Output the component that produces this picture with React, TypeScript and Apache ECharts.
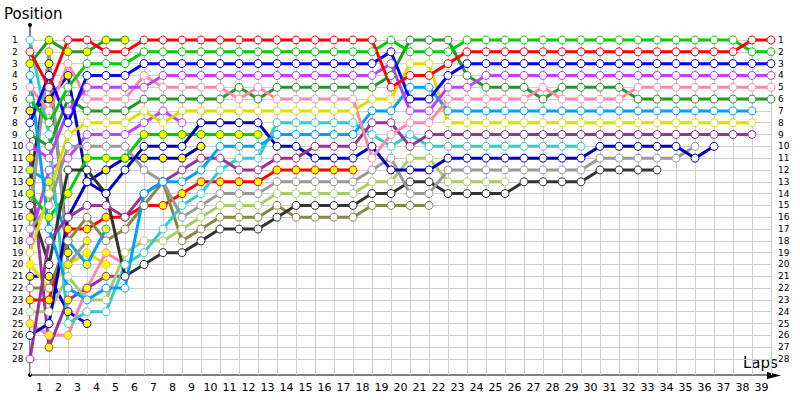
import React, { useEffect, useRef } from "react";
import * as echarts from "echarts";

// positions by lap (index 0 = start), null = not running
const laps = Array.from({ length: 40 }, (_, i) => i);
const lapLabels = ["1","2","3","4","5","6","7","8","9","10","11","12","13","14","15","16","17","18","19","20","21","22","23","24","25","26","27","28","29","30","31","32","33","34","35","36","37","38","39"];
const posLabels = ["1","2","3","4","5","6","7","8","9","10","11","12","13","14","15","16","17","18","19","20","21","22","23","24","25","26","27","28"];

const redO = [2,5,1,1,2,2,1,1,1,1,1,1,1,1,1,1,1,1,1,5,4,4,3,2,2,2,2,2,2,2,2,2,2,2,2,2,2,2,1,1];
const greenO = [6,8,5,3,3,3,2,2,2,2,2,2,2,2,2,2,2,2,2,1,2,2,2,1,1,1,1,1,1,1,1,1,1,1,1,1,1,1,2,2];
const blueO = [8,4,8,4,4,4,3,3,3,3,3,3,3,3,3,3,3,3,3,2,6,6,4,3,3,3,3,3,3,3,3,3,3,3,3,3,3,3,3,3];
const violetO = [10,11,7,5,5,5,5,4,4,4,4,4,4,4,4,4,4,4,4,3,7,7,5,5,4,4,4,4,4,4,4,4,4,4,4,4,4,4,4,4];
const pinkO = [5,7,3,6,6,6,4,5,5,5,5,6,5,6,6,6,6,6,11,9,8,8,6,6,6,6,6,5,6,6,6,6,5,5,5,5,5,5,5,5];
const dkgreenO = [9,10,6,7,7,7,6,6,6,6,6,5,6,5,5,5,5,5,5,4,1,1,1,4,5,5,5,6,5,5,5,5,6,6,6,6,6,6,6,6];
const lblueO = [4,17,22,23,22,22,14,13,13,12,10,10,10,9,9,9,9,9,7,7,5,5,7,7,7,7,7,7,7,7,7,7,7,7,7,7,7,7,7,null];
const yellowO = [19,14,9,8,8,8,7,8,7,7,7,7,7,7,7,7,7,7,6,6,3,3,8,8,8,8,8,8,8,8,8,8,8,8,8,8,8,8,8,null];
const purpleO = [28,18,16,15,15,16,14,13,12,11,11,12,12,11,11,10,10,10,8,8,10,9,9,9,9,9,9,9,9,9,9,9,9,9,9,9,9,9,9,null];
const dblueO = [26,25,16,13,14,12,10,10,10,8,8,8,8,10,10,11,11,11,10,12,12,12,11,11,11,11,11,11,11,11,10,10,10,10,10,11,10,null,null,null];
const grayO = [17,15,10,10,10,10,12,13,16,15,14,14,14,13,13,13,13,13,12,11,14,14,12,12,12,12,12,12,12,12,11,11,11,11,11,10,null,null,null,null];
const blackO = [15,20,12,12,14,21,20,19,19,18,17,17,17,16,15,15,15,15,14,14,13,13,14,14,14,14,13,13,13,13,12,12,12,12,null,null,null,null,null,null];
const cyanO = [1,9,25,24,24,20,19,17,15,14,12,11,11,8,8,8,8,8,9,10,9,10,10,10,10,10,10,10,10,10,null,null,null,null,null,null,null,null,null,null];
const lgreenO = [24,24,21,23,23,19,18,18,17,16,15,15,15,14,14,14,14,14,13,13,11,11,13,13,13,13,null,null,null,null,null,null,null,null,null,null,null,null,null,null];
const oliveO = [22,22,18,16,18,17,15,13,18,17,16,16,16,15,16,16,16,16,15,15,15,15,null,null,null,null,null,null,null,null,null,null,null,null,null,null,null,null,null,null];
const violet2 = [18,12,11,9,9,9,8,7,8,null];
const redY = [23,23,17,17,16,16,15,15,14,13,13,13,13,12,12,12,12,12,null];
const greenY = [14,16,14,11,11,11,9,9,9,9,9,9,9,null];
const dblueY = [7,6,4,13,12,11,11,11,11,10,null];
const dkgreenY = [3,1,2,2,1,1,null];
const grayY = [16,2,20,18,null];
const blackY = [13,3,19,null];
const purpleY = [11,27,23,22,21,21,null];
const pinkY = [25,26,26,22,19,20,null];
const lblueY = [12,13,18,20,17,null];
const yellowY = [20,22,20,19,20,null];
const blueY = [21,21,24,25,null];

type S = { name: string; data: (number | null)[]; color: string; fill: string };
const series: S[] = [
  { name: "blueY", data: blueY, color: "#0000ff", fill: "#ffff00" },
  { name: "yellowY", data: yellowY, color: "#dddd00", fill: "#ffff00" },
  { name: "lblueY", data: lblueY, color: "#00a0ff", fill: "#ffff00" },
  { name: "pinkY", data: pinkY, color: "#ff88aa", fill: "#ffff00" },
  { name: "purpleY", data: purpleY, color: "#993399", fill: "#ffff00" },
  { name: "blackY", data: blackY, color: "#333333", fill: "#ffff00" },
  { name: "grayY", data: grayY, color: "#999999", fill: "#ffff00" },
  { name: "dkgreenY", data: dkgreenY, color: "#229922", fill: "#ffff00" },
  { name: "violet2", data: violet2, color: "#c040ff", fill: "#ffffff" },
  { name: "dblueY", data: dblueY, color: "#0000bb", fill: "#ffff00" },
  { name: "greenY", data: greenY, color: "#00cc00", fill: "#ffff00" },
  { name: "redY", data: redY, color: "#ff0000", fill: "#ffff00" },
  { name: "oliveO", data: oliveO, color: "#888844", fill: "#ffffff" },
  { name: "lgreenO", data: lgreenO, color: "#aacc66", fill: "#ffffff" },
  { name: "cyanO", data: cyanO, color: "#33cccc", fill: "#ffffff" },
  { name: "blackO", data: blackO, color: "#333333", fill: "#ffffff" },
  { name: "grayO", data: grayO, color: "#999999", fill: "#ffffff" },
  { name: "dblueO", data: dblueO, color: "#0000bb", fill: "#ffffff" },
  { name: "purpleO", data: purpleO, color: "#993399", fill: "#ffffff" },
  { name: "yellowO", data: yellowO, color: "#dddd00", fill: "#ffffff" },
  { name: "lblueO", data: lblueO, color: "#00a0ff", fill: "#ffffff" },
  { name: "dkgreenO", data: dkgreenO, color: "#229922", fill: "#ffffff" },
  { name: "pinkO", data: pinkO, color: "#ff88aa", fill: "#ffffff" },
  { name: "violetO", data: violetO, color: "#c040ff", fill: "#ffffff" },
  { name: "blueO", data: blueO, color: "#0000ff", fill: "#ffffff" },
  { name: "greenO", data: greenO, color: "#00cc00", fill: "#ffffff" },
  { name: "redO", data: redO, color: "#ff0000", fill: "#ffffff" },
];

const FONT = "DejaVu Sans";
const GRID = "#d0d0d0";

export default function App() {
  const ref = useRef<HTMLDivElement>(null);
  useEffect(() => {
    const chart = echarts.init(ref.current!, null, { renderer: "svg" });
    const posFormatter = (v: number) => (v >= 1 && v <= 28 ? posLabels[v - 1] : "");
    chart.setOption({
      animation: false,
      backgroundColor: "#ffffff",
      grid: [
        { left: 30, right: 29, top: 40, height: 319, containLabel: false },
        { left: 30, right: 29, top: 359, height: 16, containLabel: false },
      ],
      xAxis: [
        {
          gridIndex: 0, type: "value", min: 0, max: 39, interval: 1,
          axisLine: { show: false }, axisTick: { show: false }, axisLabel: { show: false },
          splitLine: { show: true, lineStyle: { color: GRID, width: 1 } },
        },
        {
          gridIndex: 1, type: "value", min: 0, max: 39, interval: 1,
          axisLine: { show: false }, axisTick: { show: false }, axisLabel: { show: false },
          splitLine: { show: true, lineStyle: { color: GRID, width: 1 } },
        },
        {
          gridIndex: 1, type: "category", data: lapLabels, boundaryGap: true, position: "bottom",
          axisLine: { show: false }, axisTick: { show: false }, splitLine: { show: false },
          axisLabel: { show: true, color: "#000", fontFamily: FONT, fontSize: 11, margin: 7 },
        },
      ],
      yAxis: [
        {
          gridIndex: 0, type: "value", inverse: true, min: 1, max: 28, interval: 1, position: "left",
          axisLine: { show: false }, axisTick: { show: false },
          splitLine: { show: true, lineStyle: { color: GRID, width: 1 } },
          axisLabel: { show: true, color: "#000", fontFamily: FONT, fontSize: 9, align: "left", margin: 18, formatter: posFormatter },
        },
        {
          gridIndex: 0, type: "value", inverse: true, min: 1, max: 28, interval: 1, position: "right",
          axisLine: { show: false }, axisTick: { show: false }, splitLine: { show: false },
          axisLabel: { show: true, color: "#000", fontFamily: FONT, fontSize: 9, align: "left", margin: 7, formatter: posFormatter },
        },
        {
          gridIndex: 1, type: "value", min: 0, max: 1, show: false,
          splitLine: { show: false },
        },
      ],
      graphic: [
        { type: "line", shape: { x1: 30, y1: 25, x2: 30, y2: 375 }, style: { stroke: "#000", lineWidth: 1 } },
        { type: "line", shape: { x1: 30, y1: 375, x2: 776, y2: 375 }, style: { stroke: "#000", lineWidth: 1 } },
        { type: "polygon", shape: { points: [[767, 372], [781, 375.5], [767, 379]] }, style: { fill: "#000" } },
        { type: "circle", shape: { cx: 30, cy: 25, r: 2 }, style: { fill: "#000" } },
        { type: "circle", shape: { cx: 30, cy: 375, r: 2 }, style: { fill: "#000" } },
        { type: "text", x: 4, y: 6, style: { text: "Position", fontFamily: FONT, fontSize: 15, fill: "#000" } },
        { type: "text", x: 743, y: 355, style: { text: "Laps", fontFamily: FONT, fontSize: 15, fill: "#000" } },
      ],
      series: series.map((s) => ({
        name: s.name,
        type: "line",
        xAxisIndex: 0,
        yAxisIndex: 0,
        clip: false,
        data: laps.map((l) => (s.data[l] == null ? null : [l, s.data[l]])).filter((d) => d !== null),
        symbol: "circle",
        symbolSize: 8,
        showSymbol: true,
        lineStyle: { color: s.color, width: 3 },
        itemStyle: { color: s.fill, borderColor: s.color, borderWidth: 1 },
        z: 3,
      })),
    });
    return () => chart.dispose();
  }, []);
  return <div ref={ref} style={{ width: 800, height: 400, position: "absolute", left: 0, top: 0 }} />;
}
